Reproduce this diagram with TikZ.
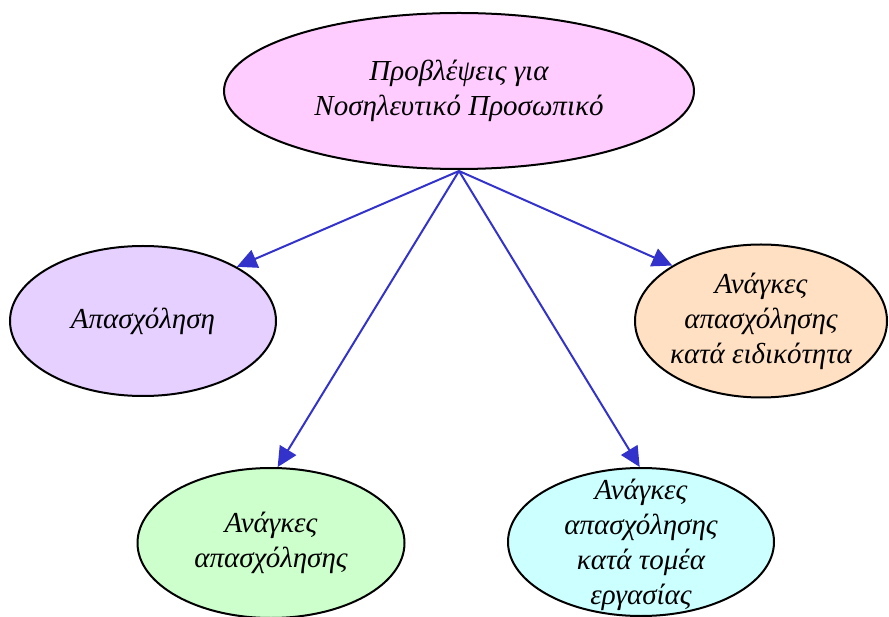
\documentclass[tikz,border=0pt]{standalone}
\usepackage{fontspec}
\setmainfont{Liberation Serif}
\usetikzlibrary{shapes.geometric,arrows.meta}
\definecolor{cTop}{HTML}{FFCCFF}
\definecolor{cLeft}{HTML}{E6D0FF}
\definecolor{cRight}{HTML}{FFE0C2}
\definecolor{cBL}{HTML}{CCFFCC}
\definecolor{cBR}{HTML}{CCFFFF}
\definecolor{cArr}{HTML}{3333CC}
\tikzset{
  oval/.style={ellipse, draw=black, line width=2pt, inner sep=0pt},
  txt/.style={inner sep=0pt, align=center, font=\fontsize{29}{35}\selectfont\itshape},
  link/.style={draw=cArr, line width=2pt, -{Triangle[length=20pt,width=19pt]}}
}
\begin{document}
\begin{tikzpicture}[x=1pt,y=-1pt]
\useasboundingbox (0,0) rectangle (889,617);
\node[oval, fill=cTop, minimum width=470pt, minimum height=156pt] (top) at (459,91) {};
\node[txt] (toptxt) at (top.center) {Προβλέψεις για\\Νοσηλευτικό Προσωπικό};
\node[oval, fill=cLeft, minimum width=266pt, minimum height=150pt] (left) at (143,321) {};
\node[txt] (lefttxt) at (left.center) {Απασχόληση};
\node[oval, fill=cRight, minimum width=252pt, minimum height=153pt] (right) at (761,321) {};
\node[txt] (righttxt) at (right.center) {Ανάγκες\\απασχόλησης\\κατά ειδικότητα};
\node[oval, fill=cBL, minimum width=267pt, minimum height=150pt] (bl) at (271,543) {};
\node[txt] (bltxt) at (bl.center) {Ανάγκες\\απασχόλησης};
\node[oval, fill=cBR, minimum width=266pt, minimum height=148pt] (br) at (641,542) {};
\node[txt] (brtxt) at (641,545) {Ανάγκες\\απασχόλησης\\κατά τομέα\\εργασίας};
\coordinate (s) at (459,171);
\draw[link] (s) -- (left.30);
\draw[link] (s) -- (bl.85);
\draw[link] (s) -- (br.91);
\draw[link] (s) -- (right.148);
\end{tikzpicture}
\end{document}
